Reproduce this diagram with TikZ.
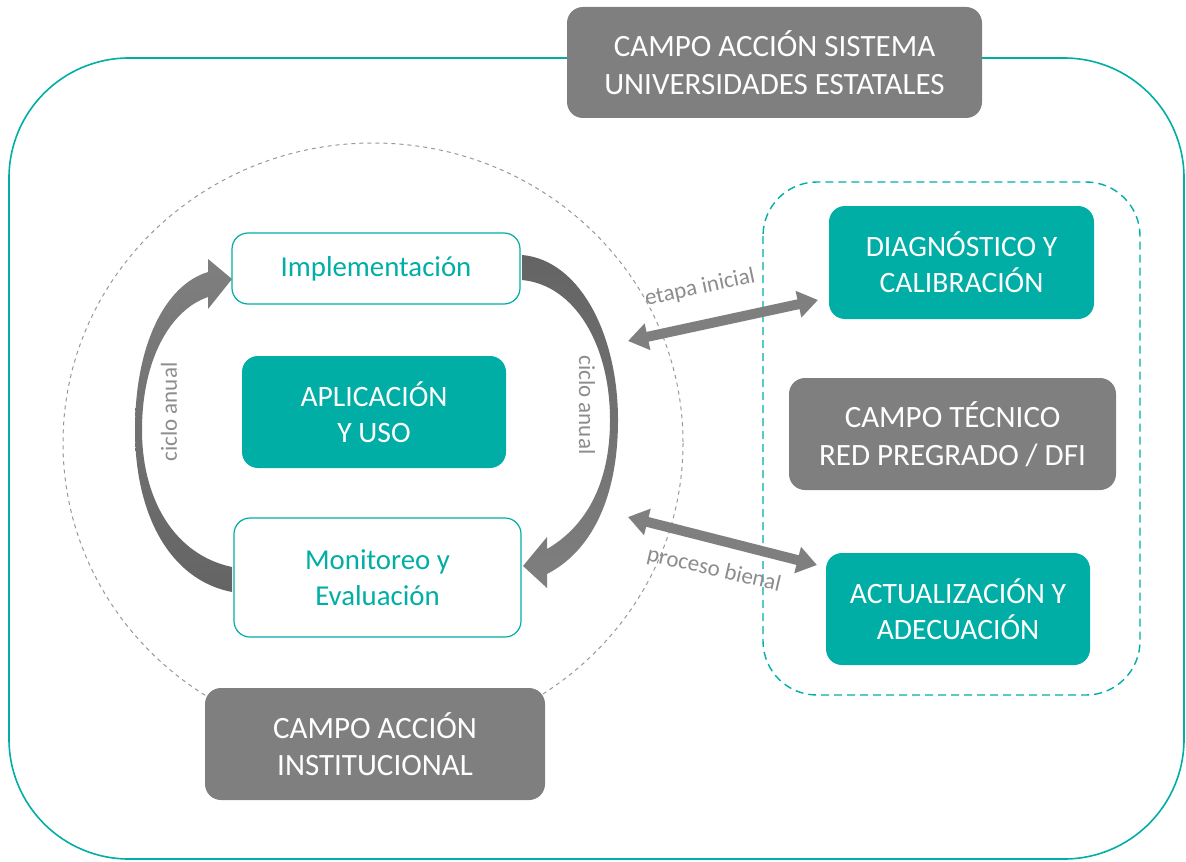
\documentclass[tikz,border=0pt]{standalone}
\usepackage{fontspec}
\setmainfont{Carlito}
\usetikzlibrary{arrows.meta}
\definecolor{turq}{HTML}{00AEA6}
\definecolor{gris}{HTML}{7F7F7F}
\definecolor{grisos}{HTML}{646464}

\begin{document}
\begin{tikzpicture}[x=0.5pt,y=-0.5pt,
  campo/.style={fill=gris,text=white,rounded corners=8pt,align=center,font=\fontsize{15.5}{18.8}\selectfont},
  accion/.style={fill=turq,text=white,rounded corners=8pt,align=center,font=\fontsize{14.8}{18}\selectfont},
  etapa/.style={draw=turq,fill=white,line width=0.6pt,text=turq,rounded corners=8pt,align=center,font=\fontsize{14.4}{18}\selectfont},
  rotulo/.style={text=gris!90,font=\fontsize{11.5}{13}\selectfont},
  flecha/.style={draw=gris,line width=5pt,<->,>={Triangle[length=10pt,width=13pt]}}]
\useasboundingbox (0,0) rectangle (1186,861);
% marcos
\draw[turq,line width=0.8pt,rounded corners=60pt] (9,58) rectangle (1184,859);
\draw[gris!80,line width=0.5pt,dash pattern=on 2pt off 2pt] (373,443) ellipse [x radius=310,y radius=300];
\draw[turq,line width=0.7pt,dash pattern=on 4pt off 2.5pt,rounded corners=27pt] (763,182) rectangle (1140,695);
% cajas
\node[campo,minimum width=207.5pt,minimum height=55.5pt] (sistema) at (774.5,62.5) {CAMPO ACCIÓN SISTEMA\\UNIVERSIDADES ESTATALES};
\node[etapa,minimum width=144pt,minimum height=35.5pt] (impl) at (376,268.5) {Implementación};
\node[accion,minimum width=132pt,minimum height=56pt] (aplic) at (374,412) {APLICACIÓN\\Y USO};
\node[etapa,minimum width=143.5pt,minimum height=59.5pt] (monit) at (377.5,577.5) {Monitoreo y\\Evaluación};
\node[campo,minimum width=170pt,minimum height=56pt] (inst) at (375,744) {CAMPO ACCIÓN\\INSTITUCIONAL};
\node[accion,minimum width=132.5pt,minimum height=56.5pt] (diag) at (961.5,262.5) {DIAGNÓSTICO Y\\CALIBRACIÓN};
\node[campo,minimum width=163.5pt,minimum height=56pt] (tecnico) at (952.5,434) {CAMPO TÉCNICO\\RED PREGRADO / DFI};
\node[accion,minimum width=132pt,minimum height=56pt] (actual) at (958,609) {ACTUALIZACIÓN Y\\ADECUACIÓN};
% ciclo anual
\shade[top color=gris, bottom color=grisos] (232,592) .. controls (170,580) and (135,515) .. (135,430) .. controls (135,345) and (165,285) .. (208,272) -- (208,259) -- (232,279) -- (208,309) -- (208,297) .. controls (170,310) and (142,360) .. (142,430) .. controls (142,500) and (175,555) .. (232,567) -- cycle;
\shade[top color=grisos, bottom color=gris] (522,255) .. controls (580,260) and (618,335) .. (618,420) .. controls (618,500) and (590,552) .. (547,574) -- (547,588) -- (523,566) -- (547,537) -- (547,549) .. controls (585,527) and (610,485) .. (610,420) .. controls (610,345) and (575,285) .. (522,280) -- cycle;
\node[rotulo,rotate=90] (ciclo-izq) at (169,412) {ciclo anual};
\node[rotulo,rotate=-90] (ciclo-der) at (587,405) {ciclo anual};
% relacion con campo tecnico
\coordinate (ini-a) at (628,341);
\coordinate (ini-b) at (818,300);
\coordinate (bie-a) at (628,517);
\coordinate (bie-b) at (817,565);
\draw[flecha] (ini-a) -- (ini-b);
\draw[flecha] (bie-a) -- (bie-b);
\node[rotulo,rotate=12] (etapa) at (700,288) {etapa inicial};
\node[rotulo,rotate=-13] (bienal) at (714,570) {proceso bienal};
\end{tikzpicture}
\end{document}
